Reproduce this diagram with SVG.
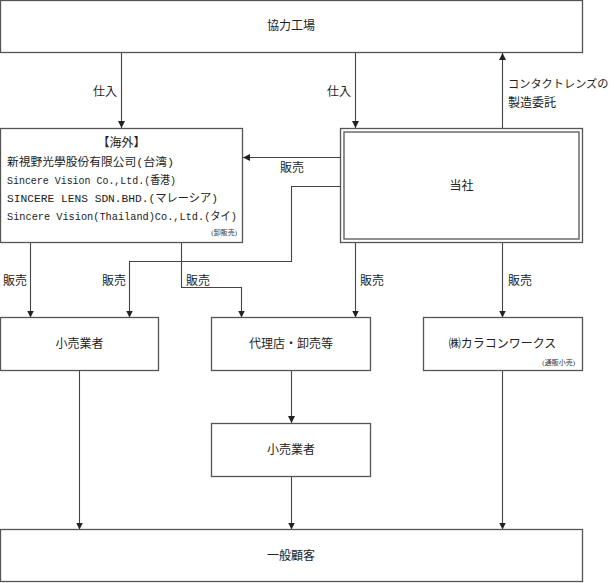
<svg xmlns="http://www.w3.org/2000/svg" width="614" height="583" viewBox="0 0 614 583">
<defs>
<marker id="ah" markerWidth="8" markerHeight="8" refX="7" refY="4" orient="auto" markerUnits="userSpaceOnUse">
<path d="M0,0.5 L7,4 L0,7.5 Z" fill="#222"/>
</marker>
<style>
.box{fill:#fff;stroke:#555;stroke-width:1.3}
.ln{fill:none;stroke:#444;stroke-width:1.1}
.t{font-family:"Liberation Serif","Noto Sans CJK JP",serif;font-size:12px;fill:#222}
.m{font-family:"Liberation Mono","Noto Sans CJK JP",monospace;font-size:11.5px;fill:#222}
.c{text-anchor:middle}
.s{font-family:"Liberation Serif","Noto Sans CJK JP",serif;font-size:7px;fill:#333}
</style>
</defs>
<rect width="614" height="583" fill="#fff"/>
<g id="connectors">
<line class="ln" x1="121.5" y1="52.5" x2="121.5" y2="128" marker-end="url(#ah)"/>
<line class="ln" x1="355.5" y1="52.5" x2="355.5" y2="128" marker-end="url(#ah)"/>
<line class="ln" x1="502.5" y1="128.5" x2="502.5" y2="53" marker-end="url(#ah)"/>
<line class="ln" x1="340.5" y1="157.5" x2="243" y2="157.5" marker-end="url(#ah)"/>
<polyline class="ln" points="340.5,186.5 291.5,186.5 291.5,261.5 129.5,261.5 129.5,317.5" marker-end="url(#ah)"/>
<polyline class="ln" points="181.5,242.5 181.5,287.5 241.5,287.5 241.5,317.5" marker-end="url(#ah)"/>
<line class="ln" x1="30.5" y1="242.5" x2="30.5" y2="317.5" marker-end="url(#ah)"/>
<line class="ln" x1="355.5" y1="242.5" x2="355.5" y2="317.5" marker-end="url(#ah)"/>
<line class="ln" x1="502.5" y1="242.5" x2="502.5" y2="317.5" marker-end="url(#ah)"/>
<line class="ln" x1="79.5" y1="370.5" x2="79.5" y2="529.5" marker-end="url(#ah)"/>
<line class="ln" x1="291.5" y1="370.5" x2="291.5" y2="423" marker-end="url(#ah)"/>
<line class="ln" x1="291.5" y1="476.5" x2="291.5" y2="529.5" marker-end="url(#ah)"/>
<line class="ln" x1="502.5" y1="370.5" x2="502.5" y2="529.5" marker-end="url(#ah)"/>
<text class="t" x="93" y="96">仕入</text>
<text class="t" x="327" y="96">仕入</text>
<text class="t" x="508" y="88" style="font-size:11.2px">コンタクトレンズの</text>
<text class="t" x="508" y="107">製造委託</text>
<text class="t" x="280" y="172">販売</text>
<text class="t" x="3" y="285">販売</text>
<text class="t" x="102" y="285">販売</text>
<text class="t" x="186" y="285">販売</text>
<text class="t" x="360" y="285">販売</text>
<text class="t" x="508" y="285">販売</text>
</g>
<g id="factory">
<rect class="box" x="0.5" y="0.5" width="582" height="52"/>
<text class="t c" x="291" y="30">協力工場</text>
</g>
<g id="overseas">
<rect class="box" x="0.5" y="128.5" width="242" height="114"/>
<text class="t c" x="121.5" y="147">【海外】</text>
<text class="m" x="7" y="166" textLength="167" lengthAdjust="spacingAndGlyphs">新視野光學股份有限公司(台湾)</text>
<text class="m" x="7" y="184" textLength="169" lengthAdjust="spacingAndGlyphs">Sincere Vision Co.,Ltd.(香港)</text>
<text class="m" x="7" y="202" textLength="211" lengthAdjust="spacingAndGlyphs">SINCERE LENS SDN.BHD.(マレーシア)</text>
<text class="m" x="7" y="220" textLength="230" lengthAdjust="spacingAndGlyphs">Sincere Vision(Thailand)Co.,Ltd.(タイ)</text>
<text class="s" x="237" y="235" text-anchor="end">(卸販売)</text>
</g>
<g id="company">
<rect class="box" x="340.5" y="128.5" width="242" height="114"/>
<rect class="box" x="344" y="132" width="235" height="107"/>
<text class="t c" x="461.5" y="190">当社</text>
</g>
<g id="retailer1">
<rect class="box" x="0.5" y="317.5" width="158" height="53"/>
<text class="t c" x="79.5" y="348">小売業者</text>
</g>
<g id="agency">
<rect class="box" x="211.5" y="317.5" width="159" height="53"/>
<text class="t c" x="291" y="348">代理店・卸売等</text>
</g>
<g id="karacon">
<rect class="box" x="423.5" y="317.5" width="159" height="53"/>
<text class="t c" x="502.5" y="348">㈱カラコンワークス</text>
<text class="s" x="575" y="365" text-anchor="end">(通販小売)</text>
</g>
<g id="retailer2">
<rect class="box" x="211.5" y="423.5" width="159" height="53"/>
<text class="t c" x="291" y="454">小売業者</text>
</g>
<g id="customer">
<rect class="box" x="0.5" y="529.5" width="582" height="52"/>
<text class="t c" x="291" y="560">一般顧客</text>
</g>
</svg>
